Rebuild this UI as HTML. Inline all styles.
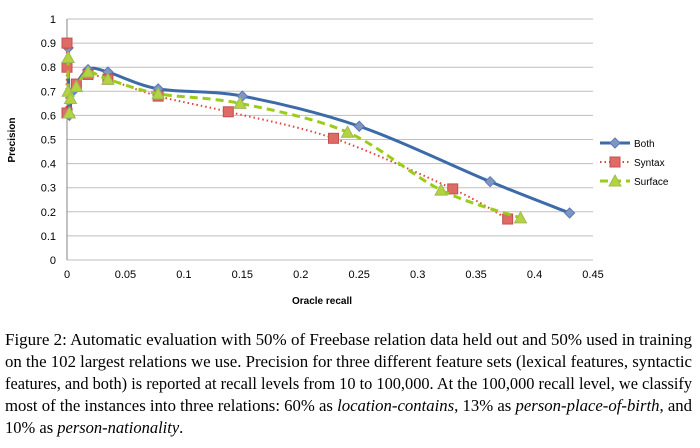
<!DOCTYPE html>
<html><head><meta charset="utf-8"><style>
body{margin:0;background:#fff;width:700px;height:448px;overflow:hidden}
svg{display:block}
</style></head><body>
<svg id="chart" width="700" height="448" font-family="Liberation Sans, sans-serif">
<g id="grid"></g>
<g id="axes"></g>
<g id="series"></g>
<g id="legend"></g>
<text x="322" y="304" font-size="10" font-weight="bold" text-anchor="middle" fill="#000">Oracle recall</text>
<text transform="translate(15,140) rotate(-90)" font-size="10" font-weight="bold" text-anchor="middle" fill="#000">Precision</text>
<g font-family="Liberation Serif, serif" font-size="16.5" fill="#000">
<text x="5" y="345" textLength="687" lengthAdjust="spacingAndGlyphs">Figure 2:  Automatic evaluation with 50% of Freebase relation data held out and 50% used in training</text>
<text x="5" y="367" textLength="687" lengthAdjust="spacingAndGlyphs">on the 102 largest relations we use.  Precision for three different feature sets (lexical features, syntactic</text>
<text x="5" y="389" textLength="687" lengthAdjust="spacingAndGlyphs">features, and both) is reported at recall levels from 10 to 100,000.  At the 100,000 recall level, we classify</text>
<text x="5" y="411" textLength="687" lengthAdjust="spacingAndGlyphs">most of the instances into three relations:  60% as <tspan font-style="italic">location-contains</tspan>, 13% as <tspan font-style="italic">person-place-of-birth</tspan>, and</text>
<text x="5" y="433">10% as <tspan font-style="italic">person-nationality</tspan>.</text>
</g>
</svg>
<script>
const xTicks=[0,0.05,0.1,0.15,0.2,0.25,0.3,0.35,0.4,0.45];
const yTicks=[0,0.1,0.2,0.3,0.4,0.5,0.6,0.7,0.8,0.9,1];
const bothX=[0.001,0.002,0.005,0.018,0.035,0.078,0.15,0.25,0.362,0.43];
const bothY=[0.88,0.6,0.7,0.79,0.78,0.71,0.68,0.555,0.325,0.195];
const syntaxX=[0,0,0,0.008,0.018,0.035,0.078,0.138,0.228,0.33,0.377];
const syntaxY=[0.9,0.8,0.61,0.73,0.77,0.75,0.68,0.615,0.505,0.295,0.17];
const surfaceX=[0.001,0.001,0.002,0.003,0.008,0.018,0.035,0.078,0.148,0.24,0.32,0.388];
const surfaceY=[0.84,0.7,0.61,0.67,0.72,0.78,0.75,0.69,0.65,0.53,0.29,0.175];
const X=v=>67+v/0.45*526, Y=v=>260-v*241;
const NS='http://www.w3.org/2000/svg';
function mk(tag,attrs,parent){const e=document.createElementNS(NS,tag);for(const k in attrs)e.setAttribute(k,attrs[k]);parent.appendChild(e);return e;}
const grid=document.getElementById('grid'),axes=document.getElementById('axes'),ser=document.getElementById('series'),leg=document.getElementById('legend');
yTicks.forEach(t=>{
 const l=mk('line',{x1:67,x2:593,y1:Y(t),y2:Y(t),stroke:'#bfbfbf','stroke-width':1},grid);
 
 
 const tx=mk('text',{x:56,y:Y(t)+4,'font-size':11,'text-anchor':'end',fill:'#000'},axes);tx.textContent=String(t);
 
 
});
xTicks.forEach(t=>{
 const tx=mk('text',{x:X(t),y:Y(0)+18,'font-size':11,'text-anchor':'middle',fill:'#000'},axes);tx.textContent=String(t);
 
 
});
const ax=mk('line',{x1:67,x2:67,y1:Y(1),y2:Y(0),stroke:'#868686'},axes);


function curve(xs,ys){const p=xs.map((x,i)=>[X(x),Y(ys[i])]);let d='M'+p[0][0]+','+p[0][1];
 for(let i=0;i<p.length-1;i++){const p0=p[i-1]||p[i],p1=p[i],p2=p[i+1],p3=p[i+2]||p2;const t=0.16;
 d+=` C${p1[0]+(p2[0]-p0[0])*t},${p1[1]+(p2[1]-p0[1])*t} ${p2[0]-(p3[0]-p1[0])*t},${p2[1]-(p3[1]-p1[1])*t} ${p2[0]},${p2[1]}`;}return d;}
function marker(type,cx,cy,g){
 if(type==='d')return mk('path',{d:`M${cx},${cy-5}L${cx+5},${cy}L${cx},${cy+5}L${cx-5},${cy}Z`,fill:'#7f96c4',stroke:'#5a78b4'},g);
 if(type==='s')return mk('rect',{x:cx-5,y:cy-5,width:10,height:10,fill:'#e06a66',stroke:'#c0504d'},g);
 return mk('path',{d:`M${cx},${cy-6}L${cx+6},${cy+5}L${cx-6},${cy+5}Z`,fill:'#b5d33f',stroke:'#9bbb59'},g);}
const defs=[['both','Both',bothX,bothY,'#3d6aa8',3,'','d'],['syntax','Syntax',syntaxX,syntaxY,'#e0413c',2,'1.5,3','s'],['surface','Surface',surfaceX,surfaceY,'#9ccc1a',3,'8,5','t']];
defs.forEach(([id,name,xs,ys,col,w,dash,m],k)=>{
 const g=mk('g',{},ser);
 
 
 const path=mk('path',{d:curve(xs,ys),fill:'none',stroke:col,'stroke-width':w,'stroke-dasharray':dash},g);
 
 
 xs.forEach((x,i)=>{const mm=marker(m,X(x),Y(ys[i]),g);
  
  });
 const ly=143+k*19;
 const lg=mk('g',{},leg);
 
 
 mk('line',{x1:600,x2:630,y1:ly,y2:ly,stroke:col,'stroke-width':w,'stroke-dasharray':dash},lg);
 marker(m,615,ly,lg);
 const t=mk('text',{x:634,y:ly+4,'font-size':10,fill:'#000'},lg);t.textContent=name;
});
</script>
</body></html>
